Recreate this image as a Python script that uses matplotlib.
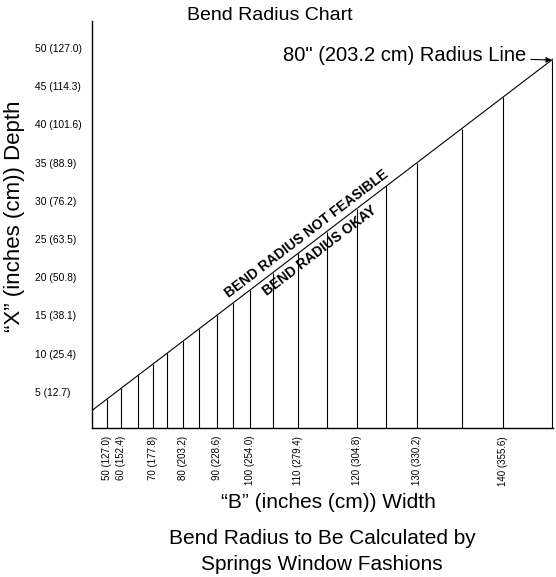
# bend radius chart: depth X vs width B for an 80" bend radius
import math
import matplotlib
matplotlib.use("Agg")
import matplotlib.pyplot as plt
import matplotlib.transforms as mtransforms

plt.rcParams["font.family"] = ["Liberation Sans", "DejaVu Sans"]

# width B (inches) of each drop line, and its depth X (inches)
widths = [50, 60, 65, 70, 75, 80, 85, 90, 95, 100, 105, 110, 115, 120, 125, 130, 135, 140, 145]
depths = [4.05, 5.47, 7.19, 8.69, 10.09, 11.68, 13.24, 15.01, 16.60, 18.33,
          20.59, 23.14, 25.97, 28.96, 31.88, 35.00, 39.43, 43.57, 48.40]

# labelled widths along the bottom
x_label_widths = [50, 60, 70, 80, 90, 100, 110, 120, 130, 140]
x_labels = ["50 (127.0)", "60 (152.4)", "70 (177.8)", "80 (203.2)", "90 (228.6)",
            "100 (254.0)", "110 (279.4)", "120 (304.8)", "130 (330.2)", "140 (355.6)"]

y_ticks = [5, 10, 15, 20, 25, 30, 35, 40, 45, 50]
y_labels = ["5 (12.7)", "10 (25.4)", "15 (38.1)", "20 (50.8)", "25 (63.5)",
            "30 (76.2)", "35 (88.9)", "40 (101.6)", "45 (114.3)", "50 (127.0)"]

W, H = 556, 577
fig = plt.figure(figsize=(W / 100, H / 100), dpi=100)
ax = fig.add_axes([91.7 / W, 1 - 428.3 / H, (553 - 91.7) / W, (428.3 - 21) / H])

ax.set_xlim(2.55, 48.53)
ax.set_ylim(0.25, 53.5)
for s in ["top", "right"]:
    ax.spines[s].set_visible(False)
for s in ["left", "bottom"]:
    ax.spines[s].set_linewidth(1.0)
    ax.spines[s].set_color("black")

# drop lines up to the radius line, and the radius line itself
ax.vlines(depths, 0.25, depths, colors="black", lw=0.8)
ax.axline((0, 0), slope=1, color="black", lw=0.8)

xpos = [depths[widths.index(w)] for w in x_label_widths]
ax.set_xticks(xpos, x_labels, rotation=90, fontsize=7)
ax.tick_params(axis="x", length=0, pad=5.5)

ax.set_yticks(y_ticks, y_labels, fontsize=7.4)
ax.tick_params(axis="y", length=0, pad=40.8)
for lbl in ax.get_yticklabels():
    lbl.set_horizontalalignment("left")

# labels either side of the radius line
p0 = ax.transData.transform((10, 10))
p1 = ax.transData.transform((40, 40))
ang = math.degrees(math.atan2(p1[1] - p0[1], p1[0] - p0[0]))
nx, ny = -math.sin(math.radians(ang)), math.cos(math.radians(ang))
above = mtransforms.offset_copy(ax.transData, fig=fig, x=7.8 * nx, y=7.8 * ny, units="points")
below = mtransforms.offset_copy(ax.transData, fig=fig, x=-8.2 * nx, y=-8.2 * ny, units="points")
ax.text(24.6, 24.6, "BEND RADIUS NOT FEASIBLE", transform=above, rotation=ang,
        rotation_mode="anchor", ha="center", va="center", fontsize=10, fontweight="bold")
ax.text(24.6, 24.6, "BEND RADIUS OKAY", transform=below, rotation=ang,
        rotation_mode="anchor", ha="center", va="center", fontsize=10, fontweight="bold")

ax.annotate('80" (203.2 cm) Radius Line', xy=(depths[-1], depths[-1]),
            xytext=(-18, 3), textcoords="offset points", ha="right", va="center",
            fontsize=14.5, annotation_clip=False,
            arrowprops=dict(arrowstyle="-|>", color="black", lw=0.8,
                            mutation_scale=8, shrinkA=1, shrinkB=0))

fig.text(270 / W, 1 - 16 / H, "Bend Radius Chart", ha="center", va="center", fontsize=14)
fig.text(15 / W, 1 - 216 / H, "\u201cX\u201d (inches (cm)) Depth", rotation=90,
         ha="center", va="center", fontsize=16)
fig.text(328 / W, 1 - 503 / H, "\u201cB\u201d (inches (cm)) Width", ha="center",
         va="center", fontsize=15)
fig.text(322 / W, 1 - 539 / H, "Bend Radius to Be Calculated by", ha="center",
         va="center", fontsize=15)
fig.text(322 / W, 1 - 565 / H, "Springs Window Fashions", ha="center",
         va="center", fontsize=15)

fig.savefig("out.png", dpi=100)
